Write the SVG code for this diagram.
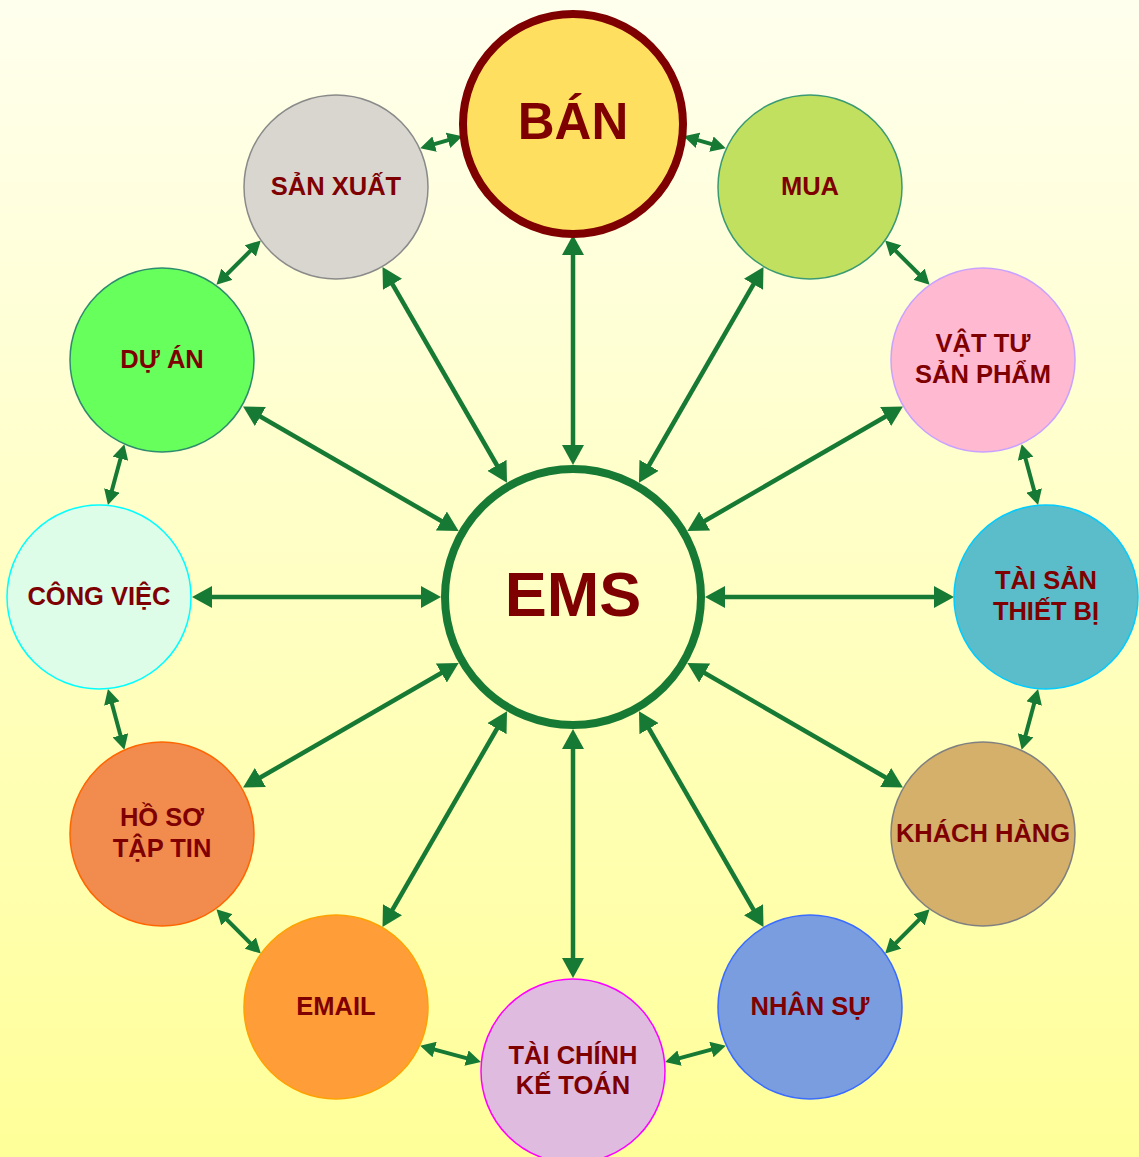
<svg xmlns="http://www.w3.org/2000/svg" width="1139" height="1157" viewBox="0 0 1139 1157">
<defs>
<linearGradient id="bg" x1="0" y1="0" x2="0" y2="1">
<stop offset="0" stop-color="#ffffee"/>
<stop offset="1" stop-color="#ffff99"/>
</linearGradient>
<marker id="ah" viewBox="0 0 20 22" markerWidth="20" markerHeight="22" refX="10" refY="11" orient="auto-start-reverse" markerUnits="userSpaceOnUse">
<path d="M0,0 L20,11 L0,22 z" fill="#177a34"/>
</marker>
<marker id="as" viewBox="0 0 15 16" markerWidth="15" markerHeight="16" refX="7.5" refY="8" orient="auto-start-reverse" markerUnits="userSpaceOnUse">
<path d="M0,0 L15,8 L0,16 z" fill="#177a34"/>
</marker>
</defs>
<style>
.t{font-family:"Liberation Sans",Arial,sans-serif;font-weight:bold;fill:#7f0000;text-anchor:middle;font-size:25.5px}
.sp{stroke:#177a34;stroke-width:4.5;fill:none;marker-start:url(#ah);marker-end:url(#ah)}
.pe{stroke:#177a34;stroke-width:4;fill:none;marker-start:url(#as);marker-end:url(#as)}
.n{stroke-width:1.5}
</style>
<rect width="1139" height="1157" fill="url(#bg)"/>
<g id="connectors">
<line class="sp" x1="573" y1="455" x2="573" y2="245"/>
<line class="sp" x1="644" y1="474" x2="758.5" y2="275.7"/>
<line class="sp" x1="696" y1="526" x2="894.3" y2="411.5"/>
<line class="sp" x1="715" y1="597" x2="944" y2="597"/>
<line class="sp" x1="696" y1="668" x2="894.3" y2="782.5"/>
<line class="sp" x1="644" y1="720" x2="758.5" y2="918.3"/>
<line class="sp" x1="573" y1="739" x2="573" y2="968"/>
<line class="sp" x1="502" y1="720" x2="387.5" y2="918.3"/>
<line class="sp" x1="450" y1="668" x2="251.7" y2="782.5"/>
<line class="sp" x1="431" y1="597" x2="202" y2="597"/>
<line class="sp" x1="450" y1="526" x2="251.7" y2="411.5"/>
<line class="sp" x1="502" y1="474" x2="387.5" y2="275.7"/>
<line class="pe" x1="690.8" y1="138.2" x2="718.6" y2="146.2"/>
<line class="pe" x1="890.5" y1="245.7" x2="924.3" y2="279.5"/>
<line class="pe" x1="1023.6" y1="451.4" x2="1036.1" y2="497.7"/>
<line class="pe" x1="1036.1" y1="696.3" x2="1023.6" y2="742.6"/>
<line class="pe" x1="924.3" y1="914.5" x2="890.5" y2="948.3"/>
<line class="pe" x1="718.6" y1="1047.6" x2="672.3" y2="1060.1"/>
<line class="pe" x1="473.7" y1="1060.1" x2="427.4" y2="1047.6"/>
<line class="pe" x1="255.5" y1="948.3" x2="221.7" y2="914.5"/>
<line class="pe" x1="122.4" y1="742.6" x2="109.9" y2="696.3"/>
<line class="pe" x1="109.9" y1="497.7" x2="122.4" y2="451.4"/>
<line class="pe" x1="221.7" y1="279.5" x2="255.5" y2="245.7"/>
<line class="pe" x1="427.4" y1="146.2" x2="455.2" y2="138.2"/>
</g>
<g id="ems">
<circle cx="573" cy="597" r="128" fill="none" stroke="#177a34" stroke-width="8"/>
<text class="t" x="573" y="616" style="font-size:63px">EMS</text>
</g>
<g id="ban">
<circle cx="573" cy="124" r="110" fill="#ffdf60" stroke="#7f0000" stroke-width="8"/>
<text class="t" x="573" y="139" style="font-size:51px">BÁN</text>
</g>
<g id="mua">
<circle class="n" cx="810" cy="187" r="92" fill="#c2e060" stroke="#3a9a74"/>
<text class="t" x="810" y="195">MUA</text>
</g>
<g id="vattu">
<circle class="n" cx="983" cy="360" r="92" fill="#ffb9d1" stroke="#c9a2ff"/>
<text class="t" x="983" y="352">VẬT TƯ</text>
<text class="t" x="983" y="383">SẢN PHẨM</text>
</g>
<g id="taisan">
<circle class="n" cx="1046" cy="597" r="92" fill="#5bbcca" stroke="#00ccff"/>
<text class="t" x="1046" y="589">TÀI SẢN</text>
<text class="t" x="1046" y="620">THIẾT BỊ</text>
</g>
<g id="khachhang">
<circle class="n" cx="983" cy="834" r="92" fill="#d4b06b" stroke="#808080"/>
<text class="t" x="983" y="842">KHÁCH HÀNG</text>
</g>
<g id="nhansu">
<circle class="n" cx="810" cy="1007" r="92" fill="#7a9de0" stroke="#3a6cff"/>
<text class="t" x="810" y="1015">NHÂN SỰ</text>
</g>
<g id="taichinh">
<circle class="n" cx="573" cy="1071" r="92" fill="#dfbcdf" stroke="#ff00ff"/>
<text class="t" x="573" y="1064">TÀI CHÍNH</text>
<text class="t" x="573" y="1094">KẾ TOÁN</text>
</g>
<g id="email">
<circle class="n" cx="336" cy="1007" r="92" fill="#ff9e38" stroke="#ffa200"/>
<text class="t" x="336" y="1015">EMAIL</text>
</g>
<g id="hoso">
<circle class="n" cx="162" cy="834" r="92" fill="#f28c4e" stroke="#ff6600"/>
<text class="t" x="162" y="826">HỒ SƠ</text>
<text class="t" x="162" y="857">TẬP TIN</text>
</g>
<g id="congviec">
<circle class="n" cx="99" cy="597" r="92" fill="#defde8" stroke="#00ffff"/>
<text class="t" x="99" y="605">CÔNG VIỆC</text>
</g>
<g id="duan">
<circle class="n" cx="162" cy="360" r="92" fill="#66ff5c" stroke="#2e8b6e"/>
<text class="t" x="162" y="368">DỰ ÁN</text>
</g>
<g id="sanxuat">
<circle class="n" cx="336" cy="187" r="92" fill="#d8d6ce" stroke="#8a8a8a"/>
<text class="t" x="336" y="195">SẢN XUẤT</text>
</g>
</svg>
